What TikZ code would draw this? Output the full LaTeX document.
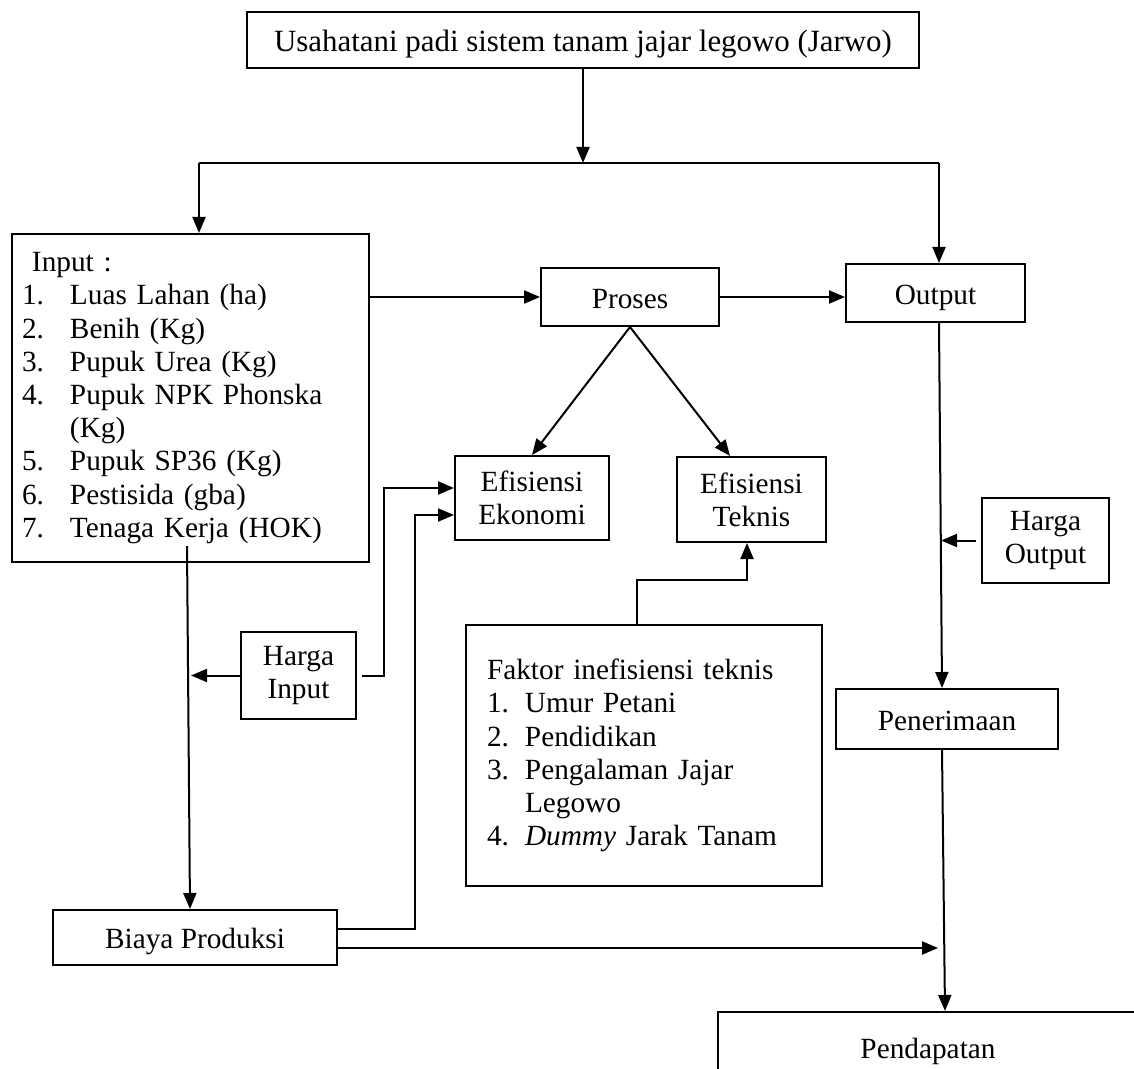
\documentclass[tikz,border=0pt]{standalone}
\usepackage{fontspec}
\setmainfont{Liberation Serif}
\usetikzlibrary{arrows.meta,calc}
\begin{document}
\begin{tikzpicture}[x=0.5pt,y=-0.5pt,
  box/.style={draw,line width=1pt,rectangle,inner sep=0pt,align=center,font=\fontsize{14.65}{16.6}\selectfont},
  one/.style={text height=14pt,text depth=2.8pt},
  conn/.style={line width=1pt},
  arr/.style={conn,-{Triangle[length=8pt,width=6.5pt]}}]
\clip (0,0) rectangle (1134,1069);
\fill[white] (0,0) rectangle (1134,1069);

% nodes
\node[box,one,minimum width=336pt,minimum height=28pt,font=\fontsize{15.45}{17.5}\selectfont] (top) at (583,40) {Usahatani padi sistem tanam jajar legowo (Jarwo)};
\node[box,minimum width=178.5pt,minimum height=164pt,text width=168.5pt,align=left] (input) at (190.5,398) {%
\hspace*{5pt}Input :\\
\makebox[24pt][l]{1.}Luas Lahan (ha)\\
\makebox[24pt][l]{2.}Benih (Kg)\\
\makebox[24pt][l]{3.}Pupuk Urea (Kg)\\
\makebox[24pt][l]{4.}Pupuk NPK Phonska\\
\hspace*{24pt}(Kg)\\
\makebox[24pt][l]{5.}Pupuk SP36 (Kg)\\
\makebox[24pt][l]{6.}Pestisida (gba)\\
\makebox[24pt][l]{7.}Tenaga Kerja (HOK)};
\node[box,one,minimum width=89pt,minimum height=29pt] (proses) at (630,297) {Proses};
\node[box,one,minimum width=89.5pt,minimum height=29pt] (output) at (935.5,293) {Output};
\node[box,minimum width=77pt,minimum height=42pt] (ekonomi) at (532,498) {Efisiensi\\Ekonomi};
\node[box,minimum width=74.5pt,minimum height=42.5pt] (teknis) at (751.5,499.5) {Efisiensi\\Teknis};
\node[box,minimum width=63.5pt,minimum height=42.5pt] (hargaout) at (1045.5,540.5) {Harga\\Output};
\node[box,minimum width=57.5pt,minimum height=43.5pt] (hargain) at (298.5,675.5) {Harga\\Input};
\node[box,minimum width=178pt,minimum height=130.5pt,text width=157pt,align=left] (faktor) at (644,755.5) {%
Faktor inefisiensi teknis\\
\makebox[19pt][l]{1.}Umur Petani\\
\makebox[19pt][l]{2.}Pendidikan\\
\makebox[19pt][l]{3.}Pengalaman Jajar\\
\hspace*{19pt}Legowo\\
\makebox[19pt][l]{4.}\textit{Dummy} Jarak Tanam};
\node[box,one,minimum width=111pt,minimum height=30pt] (penerimaan) at (947,719) {Penerimaan};
\node[box,one,minimum width=142pt,minimum height=27.5pt] (biaya) at (195,937.5) {Biaya Produksi};
\node[box,one,minimum width=210pt,minimum height=35pt] (pendapatan) at (928,1047) {Pendapatan};

% connectors
\coordinate (bl) at (199,163);
\coordinate (br) at (939,163);
\coordinate (oj) at (941,541.5);
\coordinate (ij) at (191,673);
\coordinate (rj) at (938,948);
\draw[arr] (top.south) -- (top.south |- bl);
\draw[conn] (bl) -- (br);
\draw[arr] (bl) -- (bl |- input.north);
\draw[arr] (br) -- (br |- output.north);
\draw[arr] (proses.west -| input.east) -- (proses.west);
\draw[arr] (proses.east) -- (proses.east -| output.west);
\draw[arr] (proses.south) -- (ekonomi.north);
\draw[arr] (proses.south) -- ([xshift=-10.75pt]teknis.north);
\draw[arr] ([xshift=1.75pt]output.south) -- ([xshift=-2.5pt]penerimaan.north);
\draw[arr] ([xshift=-2.5pt]hargaout.west) -- (hargaout.west -| oj);
\draw[arr] ([xshift=-1.75pt,yshift=8.5pt]input.south) -- ([xshift=-2.5pt]biaya.north);
\draw[arr] ([xshift=1pt]hargain.west) -- (hargain.west -| ij);
\draw[arr] ([xshift=2.5pt]hargain.east) -| (384,488) -- ([yshift=5pt]ekonomi.west);
\draw[arr] ([yshift=4.25pt]biaya.east) -| (415,515) -- ([yshift=-8.5pt]ekonomi.west);
\draw[arr] ([yshift=-5.25pt]biaya.east) -- (rj);
\draw[arr] ([xshift=-2.5pt]penerimaan.south) -- ([xshift=8.5pt]pendapatan.north);
\draw[arr] ([xshift=-3.5pt]faktor.north) -- ++(0,-44) -| ([xshift=-2.25pt]teknis.south);
\end{tikzpicture}
\end{document}
